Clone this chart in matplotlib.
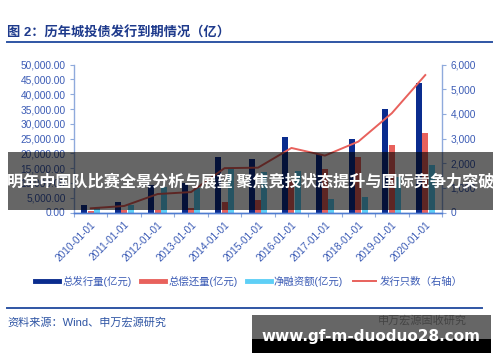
import matplotlib
matplotlib.use('Agg')
import matplotlib.pyplot as plt
from matplotlib.lines import Line2D
from matplotlib.patches import Rectangle
from matplotlib.ticker import FuncFormatter, FixedLocator

plt.rcParams['font.family'] = ['Liberation Sans', 'Noto Sans CJK SC', 'DejaVu Sans']

# data (亿元 / 只)
years = ['2010-01-01', '2011-01-01', '2012-01-01', '2013-01-01', '2014-01-01', '2015-01-01',
         '2016-01-01', '2017-01-01', '2018-01-01', '2019-01-01', '2020-01-01']
issue = [2500, 3400, 9300, 9900, 18700, 18000, 25500, 19700, 24900, 35100, 43800]
repay = [500, 700, 800, 1500, 3500, 4300, 11000, 14600, 18900, 22900, 27000]
net = [1500, 2600, 8500, 8400, 14600, 13700, 14200, 4500, 5200, 12000, 16100]
count = [170, 265, 750, 830, 1800, 1820, 2620, 2310, 2880, 4030, 5580]

navy = '#0A2C8E'
red = '#E8615C'
cyan = '#5ECFF6'
txt = '#3B5BB5'
spine = '#8FAADC'

fig = plt.figure(figsize=(5, 3.62), dpi=100)
W, H = 500, 362

def fx(px):
    return px / W

def fy(py):
    return 1 - py / H

ax = fig.add_axes([fx(74), fy(212.5), fx(442) - fx(74), fy(64.7) - fy(212.5)])
ax2 = ax.twinx()

x = list(range(len(years)))
bw = 0.18
ax.bar([i - 0.19 for i in x], issue, bw, color=navy, zorder=2)
ax.bar(x, repay, bw, color=red, zorder=2)
ax.bar([i + 0.19 for i in x], net, bw, color=cyan, zorder=2)
ax2.plot(x, count, color=red, lw=1.4, zorder=3)

ax.set_xlim(-0.5, len(years) - 0.5)
ax.set_ylim(0, 50000)
ax2.set_ylim(0, 6000)
ax.set_yticks(range(0, 50001, 5000))
ax2.set_yticks(range(0, 6001, 1000))
ax.yaxis.set_major_formatter(FuncFormatter(lambda v, p: f'{v:,.2f}'))
ax2.yaxis.set_major_formatter(FuncFormatter(lambda v, p: f'{v:,.0f}'))

ax.set_xticks(x)
ax.set_xticklabels(years, rotation=45, ha='right', rotation_mode='anchor')
ax.xaxis.set_minor_locator(FixedLocator([i - 0.5 for i in range(len(years) + 1)]))
ax.tick_params(axis='x', which='major', length=0, pad=5, labelsize=7.3, labelcolor=txt)
ax.tick_params(axis='x', which='minor', length=3, color=spine, width=0.8)
ax.tick_params(axis='y', length=3, color=spine, width=0.8, labelsize=7.3, labelcolor=txt, pad=3)
ax2.tick_params(axis='y', length=3, color=spine, width=0.8, labelsize=7.3, labelcolor=txt, pad=3)

for a in (ax, ax2):
    a.spines['top'].set_visible(False)
    a.spines['left'].set_color(spine)
    a.spines['right'].set_color(spine)
    a.spines['bottom'].set_color('#4F7BD0')
    a.spines['left'].set_linewidth(1.0)
    a.spines['right'].set_linewidth(1.0)
    a.spines['bottom'].set_linewidth(1.0)
ax.spines['right'].set_visible(False)
ax2.spines['left'].set_visible(False)

# title and rules
fig.text(fx(7), fy(33), '图 2：历年城投债发行到期情况（亿）', fontsize=9.5, fontweight='bold',
         color='#1E3A8C', va='center', ha='left')
fig.add_artist(Line2D([fx(7), fx(492)], [fy(41.7), fy(41.7)], color='#2F55A4', lw=1.4))
fig.add_artist(Line2D([fx(7), fx(482)], [fy(307.7), fy(307.7)], color='#2F55A4', lw=1.4))
fig.text(fx(7), fy(322), '资料来源：Wind、申万宏源研究', fontsize=8, color='#2F55A4', va='center', ha='left')

# legend
handles = [Line2D([], [], color=navy, lw=3.5),
           Line2D([], [], color=red, lw=3.5),
           Line2D([], [], color=cyan, lw=3.5),
           Line2D([], [], color=red, lw=1.4)]
labels = ['总发行量(亿元)', '总偿还量(亿元)', '净融资额(亿元)', '发行只数（右轴）']
fig.legend(handles, labels, loc='center', bbox_to_anchor=(fx(249), fy(281)), ncol=4,
           frameon=False, fontsize=7.5, labelcolor=txt, handlelength=2.3,
           handletextpad=0.3, columnspacing=0.9)

# overlay banner
fig.add_artist(Rectangle((fx(8), fy(210)), fx(493) - fx(8), fy(152) - fy(210),
                         transform=fig.transFigure, color='black', alpha=0.6, lw=0, zorder=10))
fig.text(fx(250.5), fy(181), '明年中国队比赛全景分析与展望 聚焦竞技状态提升与国际竞争力突破',
         fontsize=11.6, fontweight='bold', color='white', ha='center', va='center', zorder=11,
         family=['Noto Sans CJK SC', 'DejaVu Sans'])

# bottom watermark
fig.text(fx(422), fy(320), '申万宏源固收研究', fontsize=8, color='#aaaaaa', ha='center', va='center')
fig.add_artist(Rectangle((fx(252), fy(339)), fx(491) - fx(252), fy(315) - fy(339),
                         transform=fig.transFigure, color='black', alpha=0.6, lw=0, zorder=10))
fig.add_artist(Rectangle((fx(252), fy(353)), fx(491) - fx(252), fy(339) - fy(353),
                         transform=fig.transFigure, color='black', lw=0, zorder=10))
fig.text(fx(371), fy(336), 'www.gf-m-duoduo28.com', fontsize=11, fontweight='bold',
         color='white', ha='center', va='center', zorder=11, family=['DejaVu Sans'])

fig.savefig('out.png', dpi=100)
